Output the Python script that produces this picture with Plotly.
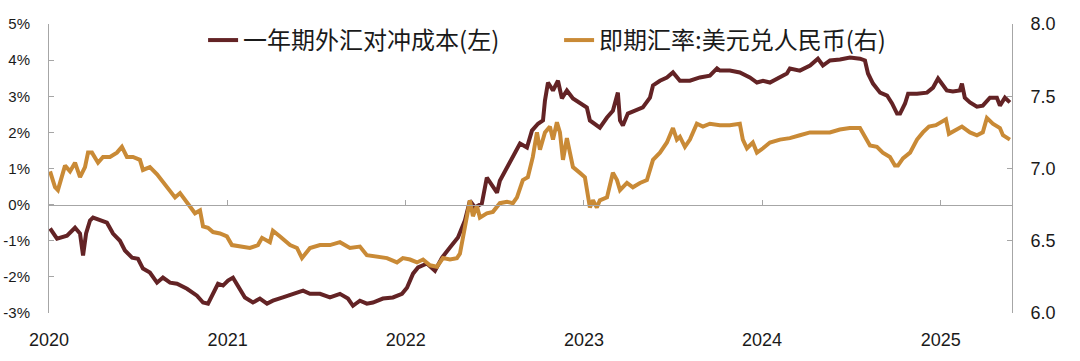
import pandas as pd
import plotly.graph_objects as go

# 一年期外汇对冲成本(左) — time in decimal years, value in %
hedge_t = [2020.006, 2020.045, 2020.101, 2020.146, 2020.174, 2020.191, 2020.208, 2020.230, 2020.247, 2020.286,
           2020.325, 2020.359, 2020.398, 2020.426, 2020.466, 2020.499, 2020.527, 2020.566, 2020.606, 2020.639,
           2020.679, 2020.718, 2020.774, 2020.830, 2020.864, 2020.892, 2020.920, 2020.948, 2020.976, 2021.004,
           2021.032, 2021.060, 2021.099, 2021.144, 2021.183, 2021.223, 2021.256, 2021.312, 2021.368, 2021.425,
           2021.464, 2021.520, 2021.576, 2021.632, 2021.677, 2021.705, 2021.744, 2021.783, 2021.817, 2021.873,
           2021.929, 2021.980, 2022.008, 2022.042, 2022.070, 2022.120, 2022.165, 2022.204, 2022.249, 2022.294,
           2022.333, 2022.361, 2022.389, 2022.428, 2022.456, 2022.485, 2022.513, 2022.529, 2022.569, 2022.602,
           2022.642, 2022.681, 2022.709, 2022.743, 2022.771, 2022.782, 2022.799, 2022.827, 2022.855, 2022.877,
           2022.905, 2022.939, 2022.978, 2023.017, 2023.034, 2023.062, 2023.090, 2023.130, 2023.163, 2023.191,
           2023.203, 2023.219, 2023.247, 2023.287, 2023.331, 2023.371, 2023.388, 2023.427, 2023.466, 2023.500,
           2023.539, 2023.595, 2023.651, 2023.707, 2023.747, 2023.763, 2023.819, 2023.875, 2023.931, 2023.971,
           2024.005, 2024.044, 2024.100, 2024.139, 2024.156, 2024.212, 2024.269, 2024.313, 2024.341, 2024.381,
           2024.437, 2024.493, 2024.549, 2024.577, 2024.594, 2024.622, 2024.662, 2024.701, 2024.729, 2024.757,
           2024.774, 2024.802, 2024.819, 2024.869, 2024.925, 2024.959, 2024.987, 2025.008, 2025.036, 2025.070,
           2025.109, 2025.121, 2025.137, 2025.166, 2025.205, 2025.238, 2025.278, 2025.317, 2025.334, 2025.362,
           2025.390]
hedge_v = [-0.66, -0.94, -0.86, -0.64, -0.80, -1.41, -0.80, -0.44, -0.36, -0.44,
           -0.50, -0.80, -1.00, -1.27, -1.47, -1.50, -1.77, -1.88, -2.16, -2.02,
           -2.16, -2.19, -2.33, -2.52, -2.71, -2.74, -2.47, -2.19, -2.24, -2.10,
           -2.02, -2.24, -2.57, -2.71, -2.60, -2.74, -2.66, -2.57, -2.47, -2.38,
           -2.47, -2.47, -2.57, -2.47, -2.60, -2.80, -2.66, -2.74, -2.71, -2.60,
           -2.57, -2.47, -2.30, -1.91, -1.74, -1.63, -1.83, -1.47, -1.19, -0.91,
           -0.44, 0.11, -0.08, 0.03, 0.75, 0.53, 0.33, 0.66, 1.03, 1.30,
           1.69, 1.58, 2.05, 2.24, 2.33, 2.88, 3.38, 3.16, 3.43, 2.94,
           3.16, 2.94, 2.80, 2.69, 2.33, 2.24, 2.13, 2.41, 2.60, 3.10,
           2.33, 2.19, 2.52, 2.60, 2.69, 2.96, 3.30, 3.43, 3.52, 3.66,
           3.43, 3.43, 3.52, 3.57, 3.77, 3.71, 3.71, 3.66, 3.52, 3.38,
           3.43, 3.38, 3.52, 3.63, 3.77, 3.71, 3.85, 4.04, 3.85, 3.99,
           4.02, 4.07, 4.04, 3.99, 3.63, 3.35, 3.10, 3.02, 2.80, 2.52,
           2.52, 2.80, 3.07, 3.07, 3.10, 3.24, 3.49, 3.35, 3.16, 3.13,
           3.16, 3.35, 2.96, 2.83, 2.71, 2.74, 2.96, 2.96, 2.74, 2.96,
           2.83]

# 即期汇率:美元兑人民币(右) — time in decimal years, rate
spot_t = [2020.006, 2020.034, 2020.050, 2020.073, 2020.090, 2020.118, 2020.146, 2020.174, 2020.202, 2020.219,
          2020.241, 2020.275, 2020.303, 2020.342, 2020.381, 2020.409, 2020.437, 2020.471, 2020.510, 2020.527,
          2020.566, 2020.606, 2020.639, 2020.679, 2020.707, 2020.735, 2020.763, 2020.791, 2020.819, 2020.847,
          2020.864, 2020.892, 2020.920, 2020.959, 2020.998, 2021.026, 2021.071, 2021.127, 2021.172, 2021.195,
          2021.239, 2021.256, 2021.296, 2021.352, 2021.391, 2021.419, 2021.464, 2021.520, 2021.576, 2021.632,
          2021.688, 2021.744, 2021.783, 2021.840, 2021.896, 2021.952, 2021.985, 2022.025, 2022.064, 2022.098,
          2022.137, 2022.176, 2022.210, 2022.249, 2022.288, 2022.305, 2022.333, 2022.361, 2022.378, 2022.400,
          2022.417, 2022.456, 2022.490, 2022.529, 2022.569, 2022.602, 2022.625, 2022.658, 2022.686, 2022.714,
          2022.737, 2022.754, 2022.782, 2022.810, 2022.827, 2022.849, 2022.866, 2022.883, 2022.905, 2022.939,
          2022.978, 2023.006, 2023.034, 2023.051, 2023.073, 2023.090, 2023.130, 2023.163, 2023.186, 2023.203,
          2023.242, 2023.275, 2023.315, 2023.354, 2023.388, 2023.427, 2023.466, 2023.500, 2023.522, 2023.539,
          2023.567, 2023.595, 2023.634, 2023.668, 2023.707, 2023.747, 2023.763, 2023.819, 2023.875, 2023.892,
          2023.915, 2023.948, 2023.971, 2024.005, 2024.044, 2024.100, 2024.156, 2024.212, 2024.269, 2024.324,
          2024.380, 2024.436, 2024.492, 2024.549, 2024.577, 2024.605, 2024.644, 2024.677, 2024.717, 2024.745,
          2024.762, 2024.790, 2024.830, 2024.869, 2024.902, 2024.936, 2024.975, 2025.009, 2025.031, 2025.048,
          2025.087, 2025.121, 2025.166, 2025.205, 2025.238, 2025.261, 2025.294, 2025.334, 2025.351, 2025.390]
spot_v = [6.98, 6.87, 6.85, 6.94, 7.02, 6.98, 7.04, 6.94, 7.01, 7.11,
          7.11, 7.04, 7.08, 7.08, 7.11, 7.15, 7.08, 7.08, 7.06, 6.99,
          7.01, 6.96, 6.91, 6.84, 6.80, 6.83, 6.78, 6.73, 6.69, 6.71,
          6.60, 6.59, 6.56, 6.55, 6.53, 6.47, 6.46, 6.45, 6.47, 6.52,
          6.49, 6.57, 6.53, 6.47, 6.45, 6.38, 6.45, 6.47, 6.47, 6.49,
          6.45, 6.46, 6.40, 6.39, 6.38, 6.35, 6.38, 6.37, 6.35, 6.37,
          6.33, 6.32, 6.38, 6.37, 6.38, 6.41, 6.60, 6.78, 6.67, 6.74,
          6.66, 6.69, 6.70, 6.76, 6.77, 6.76, 6.80, 6.92, 6.94, 7.08,
          7.25, 7.13, 7.25, 7.29, 7.20, 7.32, 7.25, 7.06, 7.21, 7.01,
          6.97, 6.94, 6.73, 6.78, 6.73, 6.78, 6.80, 6.97, 6.92, 6.85,
          6.90, 6.87, 6.90, 6.92, 7.06, 7.11, 7.18, 7.28, 7.20, 7.22,
          7.15, 7.20, 7.31, 7.29, 7.31, 7.30, 7.30, 7.30, 7.31, 7.20,
          7.14, 7.18, 7.11, 7.14, 7.18, 7.20, 7.21, 7.23, 7.25, 7.25,
          7.25, 7.27, 7.28, 7.28, 7.22, 7.16, 7.15, 7.11, 7.08, 7.02,
          7.02, 7.07, 7.11, 7.20, 7.25, 7.29, 7.30, 7.32, 7.34, 7.24,
          7.27, 7.29, 7.25, 7.23, 7.25, 7.35, 7.31, 7.28, 7.23, 7.20]

names = ["一年期外汇对冲成本(左)", "即期汇率:美元兑人民币(右)"]
left_ticks = [-3, -2, -1, 0, 1, 2, 3, 4, 5]
right_ticks = [6.0, 6.5, 7.0, 7.5, 8.0]


def to_date(ts):
    base = pd.Timestamp("2020-01-01")
    return [base + pd.to_timedelta((t - 2020) * 365.25, unit="D") for t in ts]


MAROON = "#632325"
GOLD = "#C98A36"
AXIS = "#A6A6A6"
TXT = "#1a1a1a"
xr = ["2020-01-01", "2025-05-27"]

fig = go.Figure()
fig.add_trace(go.Scatter(x=to_date(hedge_t), y=hedge_v, name=names[0], mode="lines",
                         line=dict(color=MAROON, width=4), yaxis="y"))
fig.add_trace(go.Scatter(x=to_date(spot_t), y=spot_v, name=names[1], mode="lines",
                         line=dict(color=GOLD, width=4), yaxis="y2"))

fig.update_layout(
    template="none",
    width=1080, height=361,
    margin=dict(l=49, r=68, t=24, b=48, autoexpand=False),
    paper_bgcolor="white", plot_bgcolor="white",
    font=dict(family="Liberation Sans, Arial, sans-serif", color=TXT),
    showlegend=True,
    legend=dict(orientation="h", x=0.160, y=0.943, xanchor="left", yanchor="middle",
                font=dict(family="Noto Sans CJK SC", size=24, color=TXT),
                bgcolor="rgba(0,0,0,0)", itemwidth=30, entrywidth=311, entrywidthmode="pixels"),
    xaxis=dict(type="date", range=xr, dtick="M12", tick0="2020-01-01", tickformat="%Y",
               showgrid=False, showline=False, zeroline=False, ticks="", automargin=False,
               ticklabelstandoff=14, tickfont=dict(size=18, color=TXT)),
    xaxis2=dict(type="date", range=xr, dtick="M12", tick0="2020-01-01", overlaying="x",
                anchor="free", position=0.375, side="bottom", showline=True, linecolor=AXIS,
                linewidth=1, ticks="inside", ticklen=5, tickcolor=AXIS, showticklabels=False,
                showgrid=False, zeroline=False, automargin=False),
    yaxis=dict(range=[-3, 5], tickvals=left_ticks, ticktext=[f"{v}%" for v in left_ticks],
               showgrid=False, zeroline=False, showline=True, linecolor=AXIS, linewidth=1,
               ticks="inside", ticklen=5, tickcolor=AXIS, ticklabelstandoff=15, automargin=False,
               tickfont=dict(size=15, color=TXT)),
    yaxis2=dict(range=[6, 8], overlaying="y", side="right", tickvals=right_ticks,
                ticktext=[f"{v:.1f}" for v in right_ticks],
                showgrid=False, zeroline=False, showline=True, linecolor=AXIS, linewidth=1,
                ticks="inside", ticklen=5, tickcolor=AXIS, ticklabelstandoff=14, automargin=False,
                tickfont=dict(size=18, color=TXT)),
)
# empty trace so the zero-line axis with year ticks is rendered
fig.add_trace(go.Scatter(x=[], y=[], xaxis="x2", showlegend=False, hoverinfo="skip"))

fig.write_html("out.html", config={"displayModeBar": False},
               post_script="document.body.style.margin='0';document.body.style.overflow='hidden';")
